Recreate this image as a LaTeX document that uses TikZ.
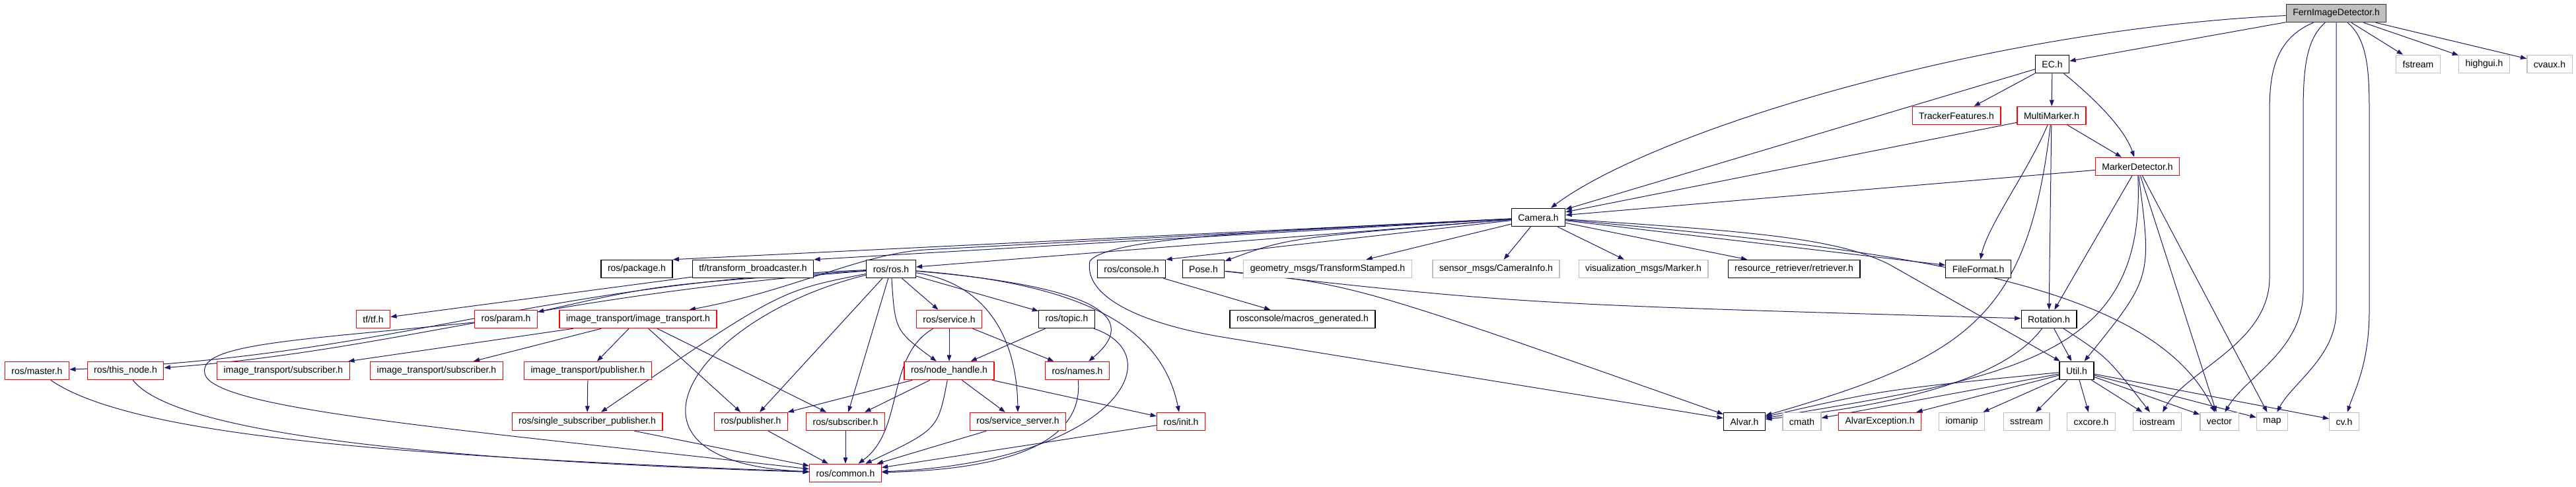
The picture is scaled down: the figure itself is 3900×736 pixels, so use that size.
\documentclass[tikz,border=0pt]{standalone}
\usepackage{fontspec}
\setmainfont{Liberation Sans}
\usetikzlibrary{arrows.meta,backgrounds}
\definecolor{edgeblue}{HTML}{191970}
\definecolor{boxred}{HTML}{FF0000}
\definecolor{boxgray}{HTML}{BFBFBF}

\begin{document}
\begin{tikzpicture}[x=0.75pt, y=-0.75pt,
   every node/.style={font=\fontsize{10.5}{12}\selectfont, inner xsep=7.5pt, minimum height=20.5pt, fill=white},
   docbox/.style={draw=black, line width=0.9pt},
   cutbox/.style={draw=boxred, line width=0.9pt},
   extbox/.style={draw=boxgray, line width=0.9pt},
   rootbox/.style={draw=black!80, fill=boxgray, line width=0.9pt},
   dep/.style={draw=edgeblue, line width=0.75pt, -{Triangle[length=7pt,width=5pt]}}]

   \useasboundingbox (0,0) rectangle (3900,736);

   \node[rootbox] (fern) at (3537,20) {FernImageDetector.h};

   \node[docbox] (ec) at (3107,97) {EC.h};
   \node[extbox] (fstream) at (3661,97) {fstream};
   \node[extbox] (highgui) at (3761,97) {highgui.h};
   \node[extbox] (cvaux) at (3860,97) {cvaux.h};

   \node[cutbox] (tracker) at (2962,175) {TrackerFeatures.h};
   \node[cutbox] (multi) at (3106,175) {MultiMarker.h};
   \node[cutbox] (mdet) at (3236,252) {MarkerDetector.h};
   \node[docbox] (camera) at (2329,329) {Camera.h};

   \node[docbox] (pkg) at (964,407) {ros/package.h};
   \node[docbox] (bcast) at (1140,407) {tf/transform\_broadcaster.h};
   \node[docbox] (rosros) at (1349,407) {ros/ros.h};
   \node[docbox] (console) at (1713,407) {ros/console.h};
   \node[docbox] (pose) at (1822,407) {Pose.h};
   \node[extbox] (geom) at (2010,407) {geometry\_msgs/TransformStamped.h};
   \node[extbox] (caminfo) at (2265,407) {sensor\_msgs/CameraInfo.h};
   \node[extbox] (marker) at (2488,407) {visualization\_msgs/Marker.h};
   \node[docbox] (retriever) at (2716,407) {resource\_retriever/retriever.h};
   \node[docbox] (fileformat) at (2995,407) {FileFormat.h};

   \node[cutbox] (tftf) at (565,483) {tf/tf.h};
   \node[cutbox] (param) at (766,483) {ros/param.h};
   \node[cutbox] (itimg) at (966,483) {image\_transport/image\_transport.h};
   \node[cutbox] (service) at (1437,483) {ros/service.h};
   \node[docbox] (topic) at (1615,483) {ros/topic.h};
   \node[docbox] (macros) at (1972,483) {rosconsole/macros\_generated.h};
   \node[docbox] (rotation) at (3102,483) {Rotation.h};

   \node[cutbox] (master) at (56,561) {ros/master.h};
   \node[cutbox] (thisnode) at (190,561) {ros/this\_node.h};
   \node[cutbox] (itsuba) at (429,561) {image\_transport/subscriber.h};
   \node[cutbox] (itsubb) at (661,561) {image\_transport/subscriber.h};
   \node[cutbox] (itpub) at (890,561) {image\_transport/publisher.h};
   \node[cutbox] (nodeh) at (1437,561) {ros/node\_handle.h};
   \node[cutbox] (names) at (1631,561) {ros/names.h};
   \node[docbox] (util) at (3144,561) {Util.h};

   \node[cutbox] (sspub) at (889,638) {ros/single\_subscriber\_publisher.h};
   \node[cutbox] (pub) at (1137,638) {ros/publisher.h};
   \node[cutbox] (sub) at (1280,638) {ros/subscriber.h};
   \node[cutbox] (srvsrv) at (1541,638) {ros/service\_server.h};
   \node[cutbox] (init) at (1788,638) {ros/init.h};
   \node[docbox] (alvar) at (2641,638) {Alvar.h};
   \node[extbox] (cmath) at (2728,638) {cmath};
   \node[cutbox] (alvarexc) at (2846,638) {AlvarException.h};
   \node[extbox] (iomanip) at (2970,638) {iomanip};
   \node[extbox] (sstream) at (3068,638) {sstream};
   \node[extbox] (cxcore) at (3166,638) {cxcore.h};
   \node[extbox] (iostream) at (3266,638) {iostream};
   \node[extbox] (vector) at (3360,638) {vector};
   \node[extbox] (map) at (3440,638) {map};
   \node[extbox] (cvh) at (3549,638) {cv.h};

   \node[cutbox] (common) at (1280,716) {ros/common.h};

   \begin{scope}[on background layer]
   \draw[dep] (fern) -- (ec);
   \draw[dep] (fern) .. controls (3000,45) and (2500,200) .. (camera);
   \draw[dep] (fern) -- (fstream);
   \draw[dep] (fern) -- (highgui);
   \draw[dep] (fern) -- (cvaux);
   \draw[dep] (fern) .. controls (3440,60) and (3436,120) .. (3436,170) -- (3436,420) .. controls (3436,520) and (3310,560) .. (iostream);
   \draw[dep] (fern) .. controls (3490,60) and (3487,110) .. (3487,170) -- (3487,440) .. controls (3487,530) and (3400,570) .. (vector);
   \draw[dep] (fern) -- (3537,470) .. controls (3537,540) and (3470,580) .. (map);
   \draw[dep] (fern) .. controls (3585,60) and (3587,110) .. (3587,170) -- (3587,470) .. controls (3587,550) and (3565,590) .. (cvh);

   \draw[dep] (ec) -- (camera);
   \draw[dep] (ec) -- (tracker);
   \draw[dep] (ec) -- (multi);
   \draw[dep] (ec) .. controls (3160,140) and (3215,190) .. (mdet);

   \draw[dep] (multi) -- (camera);
   \draw[dep] (multi) -- (mdet);
   \draw[dep] (multi) .. controls (3070,260) and (3010,340) .. (fileformat);
   \draw[dep] (multi) -- (rotation);
   \draw[dep] (multi) .. controls (3070,480) and (2980,540) .. (alvar);

   \draw[dep] (mdet) -- (camera);
   \draw[dep] (mdet) -- (rotation);
   \draw[dep] (mdet) .. controls (3258,420) .. (util);
   \draw[dep] (mdet) .. controls (3250,540) and (3050,570) .. (alvar);
   \draw[dep] (mdet) -- (vector);
   \draw[dep] (mdet) -- (map);

   \draw[dep] (camera) -- (pkg.north east);
   \draw[dep] (camera) -- (bcast.north east);
   \draw[dep] (camera) -- (rosros);
   \draw[dep] (camera) -- (1400,378) .. controls (1300,385) and (1200,440) .. (itimg);
   \draw[dep] (camera) -- (console.north east);
   \draw[dep] (camera) .. controls (1950,360) .. (pose);
   \draw[dep] (camera) -- (geom);
   \draw[dep] (camera) -- (caminfo);
   \draw[dep] (camera) -- (marker);
   \draw[dep] (camera) -- (retriever);
   \draw[dep] (camera) -- (fileformat);
   \draw[dep] (camera) .. controls (2650,350) and (2780,360) .. (2860,400) -- (util);
   \draw[dep] (camera) .. controls (1900,350) and (1680,360) .. (1650,395) .. controls (1640,450) and (1730,490) .. (1850,510) -- (alvar);
   \draw[dep] (camera) .. controls (2900,380) and (3260,430) .. (vector);

   \draw[dep] (bcast) -- (tftf);

   \draw[dep] (rosros) .. controls (800,430) and (600,540) .. (master);
   \draw[dep] (rosros) .. controls (800,450) and (600,530) .. (thisnode);
   \draw[dep] (rosros) .. controls (1000,430) .. (param);
   \draw[dep] (rosros) -- (service);
   \draw[dep] (rosros) -- (topic);
   \draw[dep] (rosros) .. controls (1355,500) .. (nodeh);
   \draw[dep] (rosros) .. controls (1620,430) and (1740,470) .. (names);
   \draw[dep] (rosros) .. controls (1650,430) and (1760,500) .. (init);
   \draw[dep] (rosros) .. controls (1500,430) and (1540,520) .. (srvsrv);
   \draw[dep] (rosros) .. controls (1180,440) .. (sspub);
   \draw[dep] (rosros) -- (pub);
   \draw[dep] (rosros) -- (sub);
   \draw[dep] (rosros) .. controls (1050,480) and (900,700) .. (common);

   \draw[dep] (console) -- (macros);
   \draw[dep] (pose) .. controls (2300,460) .. (rotation);
   \draw[dep] (pose) .. controls (2050,430) .. (alvar);

   \draw[dep] (param) .. controls (450,515) and (300,520) .. (310,565) .. controls (320,620) and (700,650) .. (common);
   \draw[dep] (master) .. controls (200,660) and (600,690) .. (common);
   \draw[dep] (thisnode) .. controls (260,650) and (600,695) .. (common);

   \draw[dep] (itimg) -- (itsuba);
   \draw[dep] (itimg) -- (itsubb);
   \draw[dep] (itimg) -- (itpub);
   \draw[dep] (itimg) -- (pub);
   \draw[dep] (itimg) -- (sub);
   \draw[dep] (itpub) -- (sspub);

   \draw[dep] (service) -- (nodeh);
   \draw[dep] (service) -- (names);
   \draw[dep] (service) .. controls (1340,540) and (1370,650) .. (common);
   \draw[dep] (topic) -- (nodeh);
   \draw[dep] (topic) .. controls (1780,540) and (1680,700) .. (common);

   \draw[dep] (nodeh) -- (pub);
   \draw[dep] (nodeh) -- (sub);
   \draw[dep] (nodeh) -- (srvsrv);
   \draw[dep] (nodeh) -- (init);
   \draw[dep] (nodeh) .. controls (1420,650) .. (common);
   \draw[dep] (names) .. controls (1640,660) and (1550,710) .. (common);

   \draw[dep] (sspub) -- (common);
   \draw[dep] (pub) -- (common);
   \draw[dep] (sub) -- (common);
   \draw[dep] (srvsrv) -- (common);
   \draw[dep] (init) -- (common);

   \draw[dep] (rotation) -- (util);
   \draw[dep] (rotation) .. controls (3030,580) and (2850,615) .. (alvar);
   \draw[dep] (rotation) .. controls (3190,540) .. (iostream);

   \draw[dep] (util) .. controls (2850,590) .. (alvar);
   \draw[dep] (util) -- (cmath);
   \draw[dep] (util) -- (alvarexc);
   \draw[dep] (util) -- (iomanip);
   \draw[dep] (util) -- (sstream);
   \draw[dep] (util) -- (cxcore);
   \draw[dep] (util) -- (iostream);
   \draw[dep] (util) -- (vector);
   \draw[dep] (util) -- (map);
   \draw[dep] (util) -- (cvh);
   \end{scope}

\end{tikzpicture}
\end{document}
